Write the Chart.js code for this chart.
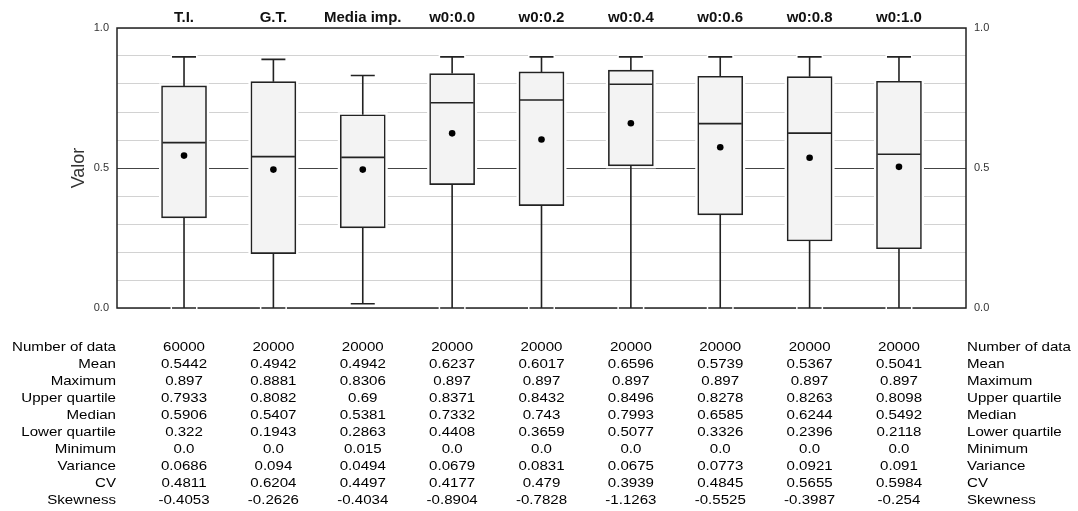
<!DOCTYPE html>
<html lang="es">
<head>
    <title>Valor por método</title>
    <script src="https://cdn.jsdelivr.net/npm/chart.js"></script>
    <style>
        body { margin: 0; background: #fff; }
        #chartContainer {
            width: 1078px;
            height: 511px;
        }
    </style>
</head>
<body>

<div id="chartContainer">
    <canvas id="valorChart"></canvas>
</div>

<script>
// Box plot summary per method
const categories = ['T.I.', 'G.T.', 'Media imp.', 'w0:0.0', 'w0:0.2', 'w0:0.4', 'w0:0.6', 'w0:0.8', 'w0:1.0'];
const counts    = [60000, 20000, 20000, 20000, 20000, 20000, 20000, 20000, 20000];
const means     = [0.5442, 0.4942, 0.4942, 0.6237, 0.6017, 0.6596, 0.5739, 0.5367, 0.5041];
const maxima    = [0.897, 0.8881, 0.8306, 0.897, 0.897, 0.897, 0.897, 0.897, 0.897];
const upperQ    = [0.7933, 0.8082, 0.69, 0.8371, 0.8432, 0.8496, 0.8278, 0.8263, 0.8098];
const medians   = [0.5906, 0.5407, 0.5381, 0.7332, 0.743, 0.7993, 0.6585, 0.6244, 0.5492];
const lowerQ    = [0.322, 0.1943, 0.2863, 0.4408, 0.3659, 0.5077, 0.3326, 0.2396, 0.2118];
const minima    = [0.0, 0.0, 0.015, 0.0, 0.0, 0.0, 0.0, 0.0, 0.0];
const variances = [0.0686, 0.094, 0.0494, 0.0679, 0.0831, 0.0675, 0.0773, 0.0921, 0.091];
const cvs       = [0.4811, 0.6204, 0.4497, 0.4177, 0.479, 0.3939, 0.4845, 0.5655, 0.5984];
const skewness  = [-0.4053, -0.2626, -0.4034, -0.8904, -0.7828, -1.1263, -0.5525, -0.3987, -0.254];
const yTicks    = [0.0, 0.5, 1.0];

// Rows of the statistics table under the plot
const tableRows = [
    ['Number of data', counts],
    ['Mean', means],
    ['Maximum', maxima],
    ['Upper quartile', upperQ],
    ['Median', medians],
    ['Lower quartile', lowerQ],
    ['Minimum', minima],
    ['Variance', variances],
    ['CV', cvs],
    ['Skewness', skewness]
];

const FONT = "'Liberation Sans', Arial, Helvetica, sans-serif";
const LINE = '#222';
const BOX_W = 45;
const CAP_W = 24;
const TEXT_STRETCH = 1.16;   // table text is set a little wide

function fmt(v) {
    return v === 0 ? '0.0' : String(v);
}

function tickLabel(value) {
    return yTicks.some(t => Math.abs(t - value) < 1e-6) ? value.toFixed(1) : '';
}

// draws text stretched horizontally, anchored like a normal fillText
function wideText(ctx, text, px, py, align) {
    ctx.save();
    ctx.translate(px, py);
    ctx.scale(TEXT_STRETCH, 1);
    ctx.textAlign = align;
    ctx.fillText(text, 0, 0);
    ctx.restore();
}

// Whiskers, caps, medians, frame and all the text around the plot
const boxPlot = {
    id: 'boxPlot',
    beforeDatasetsDraw(chart) {
        const { ctx, chartArea: a, scales: { x, y } } = chart;
        ctx.save();
        // white margin around each box so the grid stops short of it
        ctx.fillStyle = '#fff';
        categories.forEach((c, i) => {
            const cx = x.getPixelForValue(i);
            const top = y.getPixelForValue(upperQ[i]);
            const bottom = y.getPixelForValue(lowerQ[i]);
            ctx.fillRect(cx - BOX_W / 2 - 2.5, top - 2.5, BOX_W + 5, bottom - top + 5);
        });
        ctx.strokeStyle = LINE;
        ctx.lineWidth = 1.5;
        ctx.strokeRect(a.left, a.top, a.right - a.left, a.bottom - a.top);
        ctx.restore();
    },
    afterDatasetsDraw(chart) {
        const { ctx, scales: { x, y } } = chart;
        ctx.save();
        categories.forEach((c, i) => {
            const cx = x.getPixelForValue(i);
            const yMax = y.getPixelForValue(maxima[i]);
            const yQ3 = y.getPixelForValue(upperQ[i]);
            const yMed = y.getPixelForValue(medians[i]);
            const yQ1 = y.getPixelForValue(lowerQ[i]);
            const yMin = y.getPixelForValue(minima[i]);

            // cap halos
            ctx.strokeStyle = '#fff';
            ctx.lineWidth = 4;
            [yMax, yMin].forEach(py => {
                ctx.beginPath();
                ctx.moveTo(cx - CAP_W / 2 - 1.5, py);
                ctx.lineTo(cx + CAP_W / 2 + 1.5, py);
                ctx.stroke();
            });

            ctx.strokeStyle = LINE;
            ctx.lineWidth = 1.6;
            ctx.beginPath();
            // whiskers
            ctx.moveTo(cx, yQ3);
            ctx.lineTo(cx, yMax);
            ctx.moveTo(cx, yQ1);
            ctx.lineTo(cx, yMin);
            // caps
            ctx.moveTo(cx - CAP_W / 2, yMax);
            ctx.lineTo(cx + CAP_W / 2, yMax);
            ctx.moveTo(cx - CAP_W / 2, yMin);
            ctx.lineTo(cx + CAP_W / 2, yMin);
            // median
            ctx.moveTo(cx - BOX_W / 2 + 1, yMed);
            ctx.lineTo(cx + BOX_W / 2 - 1, yMed);
            ctx.stroke();
        });
        ctx.restore();
    },
    afterDraw(chart) {
        const { ctx, chartArea: a, scales: { x, y } } = chart;
        ctx.save();

        // method names above the plot
        ctx.fillStyle = '#111';
        ctx.font = 'bold 15px ' + FONT;
        ctx.textAlign = 'center';
        ctx.textBaseline = 'alphabetic';
        categories.forEach((c, i) => ctx.fillText(c, x.getPixelForValue(i), 21.5));

        // axis title
        ctx.save();
        ctx.translate(79, y.getPixelForValue(0.5));
        ctx.rotate(-Math.PI / 2);
        ctx.font = '18px ' + FONT;
        ctx.fillStyle = '#333';
        ctx.textBaseline = 'middle';
        ctx.fillText('Valor', 0, 0);
        ctx.restore();

        // statistics table
        ctx.font = '13px ' + FONT;
        ctx.fillStyle = '#000';
        ctx.textBaseline = 'middle';
        tableRows.forEach(([label, values], r) => {
            const py = 347 + r * 17;
            wideText(ctx, label, a.left - 1, py, 'right');
            wideText(ctx, label, a.right + 1, py, 'left');
            values.forEach((v, i) => wideText(ctx, fmt(v), x.getPixelForValue(i), py, 'center'));
        });
        ctx.restore();
    }
};

const ctx = document.getElementById('valorChart').getContext('2d');

const valorChart = new Chart(ctx, {
    data: {
        datasets: [{
            type: 'scatter',
            label: 'Mean',
            data: means.map((v, i) => ({ x: i, y: v })),
            pointRadius: 3.3,
            pointHoverRadius: 3.3,
            backgroundColor: '#000',
            borderWidth: 0,
            order: 1
        }, {
            type: 'bar',
            label: 'Quartiles',
            data: lowerQ.map((v, i) => ({ x: i, y: [v, upperQ[i]] })),
            backgroundColor: '#f3f3f3',
            borderColor: LINE,
            borderWidth: 1.6,
            borderSkipped: false,
            barThickness: BOX_W,
            order: 2
        }]
    },
    options: {
        responsive: true,
        maintainAspectRatio: false,
        animation: false,
        layout: { padding: { top: 28, bottom: 203, left: 0, right: 0 } },
        plugins: {
            legend: { display: false },
            tooltip: { enabled: false }
        },
        scales: {
            x: {
                type: 'linear',
                min: -0.75,
                max: 8.75,
                offset: false,
                display: false
            },
            y: {
                position: 'left',
                min: 0,
                max: 1,
                afterFit: s => { s.width = 117; },
                border: { display: false },
                grid: {
                    drawTicks: false,
                    color: c => Math.abs(c.tick.value - 0.5) < 1e-6 ? '#444' : '#d2d2d2',
                    lineWidth: 1
                },
                ticks: {
                    stepSize: 0.1,
                    autoSkip: false,
                    padding: 8,
                    color: '#333',
                    font: { family: FONT, size: 11 },
                    callback: tickLabel
                }
            },
            y2: {
                position: 'right',
                min: 0,
                max: 1,
                afterFit: s => { s.width = 112; },
                border: { display: false },
                grid: { display: false, drawTicks: false },
                ticks: {
                    stepSize: 0.1,
                    autoSkip: false,
                    padding: 8,
                    color: '#333',
                    font: { family: FONT, size: 11 },
                    callback: tickLabel
                }
            }
        }
    },
    plugins: [boxPlot]
});
</script>

</body>
</html>
